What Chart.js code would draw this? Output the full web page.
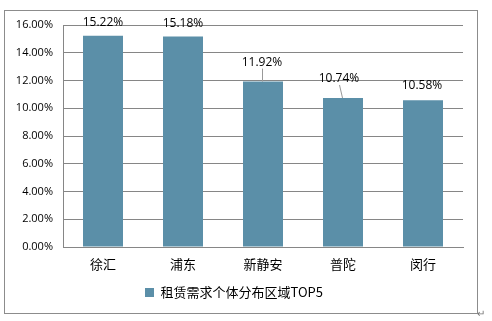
<!DOCTYPE html>
<html><head><meta charset="utf-8">
<script src="https://cdn.jsdelivr.net/npm/chart.js@4/dist/chart.umd.min.js"></script>
<style>html,body{margin:0;padding:0;background:#fff}#w{width:492px;height:321px;position:relative}</style>
</head><body><div id="w"><canvas id="c" width="492" height="321"></canvas></div>
<script>
const categories = ['徐汇', '浦东', '新静安', '普陀', '闵行'];
const values = [15.22, 15.18, 11.92, 10.74, 10.58];
const seriesName = '租赁需求个体分布区域TOP5';
const yTicks = [0, 2, 4, 6, 8, 10, 12, 14, 16];

const BAR = '#5B8FA8';
const GRID = '#868686';
const LATIN = '"Open Sans", "Liberation Sans", sans-serif';
const CJK = '"Noto Sans CJK SC", "Open Sans", sans-serif';

// label placement styles (offsets from bar top)
const labelStyle = [
  {dx: 0, dy: -13, leader: false},
  {dx: 0, dy: -13, leader: false},
  {dx: -1, dy: -19, leader: true},
  {dx: -4, dy: -19, leader: true},
  {dx: -1, dy: -15, leader: false}
];

const framePlugin = {
  id: 'frame',
  beforeDraw(chart) {
    const ctx = chart.ctx;
    ctx.save();
    ctx.fillStyle = '#fff';
    ctx.fillRect(0, 0, chart.width, chart.height);
    ctx.strokeStyle = '#8c8c8c';
    ctx.lineWidth = 1;
    ctx.strokeRect(4.5, 10.5, 473, 303);
    ctx.fillStyle = '#777';
    ctx.font = '10px ' + LATIN;
    ctx.textAlign = 'left';
    ctx.textBaseline = 'middle';
    ctx.fillText('↵', 477, 314);
    ctx.restore();
  }
};

const labelPlugin = {
  id: 'vlabels',
  afterDatasetsDraw(chart) {
    const ctx = chart.ctx;
    const meta = chart.getDatasetMeta(0);
    ctx.save();
    ctx.font = '12px ' + LATIN;
    ctx.fillStyle = '#000';
    ctx.textAlign = 'center';
    ctx.textBaseline = 'middle';
    meta.data.forEach((bar, i) => {
      const s = labelStyle[i];
      const lx = bar.x + s.dx, ly = bar.y + s.dy;
      ctx.fillText(values[i].toFixed(2) + '%', lx, ly);
      if (s.leader) {
        ctx.strokeStyle = '#999';
        ctx.lineWidth = 1;
        ctx.beginPath();
        ctx.moveTo(Math.round(lx) + 0.5, ly + 6);
        ctx.lineTo(Math.round(bar.x - 1) + 0.5, bar.y);
        ctx.stroke();
      }
    });
    ctx.restore();
  }
};

new Chart(document.getElementById('c'), {
  type: 'bar',
  data: {
    labels: categories,
    datasets: [{
      label: seriesName,
      data: values,
      backgroundColor: BAR,
      borderWidth: 0,
      categoryPercentage: 1.0,
      barPercentage: 0.5
    }]
  },
  options: {
    responsive: false,
    animation: false,
    devicePixelRatio: 1,
    layout: {padding: {left: 5, right: 29, top: 25, bottom: 12}},
    plugins: {
      legend: {
        position: 'bottom',
        labels: {
          boxWidth: 9, boxHeight: 9, padding: 8,
          color: '#000',
          font: {family: CJK, size: 13}
        }
      },
      tooltip: {enabled: false}
    },
    scales: {
      x: {
        grid: {display: false, drawTicks: false},
        border: {display: true, color: GRID, width: 1},
        ticks: {color: '#000', padding: 9, font: {family: CJK, size: 13}},
        afterFit(s) { s.height = 31; }
      },
      y: {
        min: 0, max: 16,
        afterBuildTicks(s) { s.ticks = yTicks.map(v => ({value: v})); },
        grid: {color: GRID, drawTicks: false},
        border: {display: true, color: GRID, width: 1},
        ticks: {
          color: '#000', padding: 10,
          font: {family: LATIN, size: 11},
          callback: v => Number(v).toFixed(2) + '%'
        },
        afterFit(s) { s.width = 58; }
      }
    }
  },
  plugins: [framePlugin, labelPlugin]
});
</script>
</body></html>
